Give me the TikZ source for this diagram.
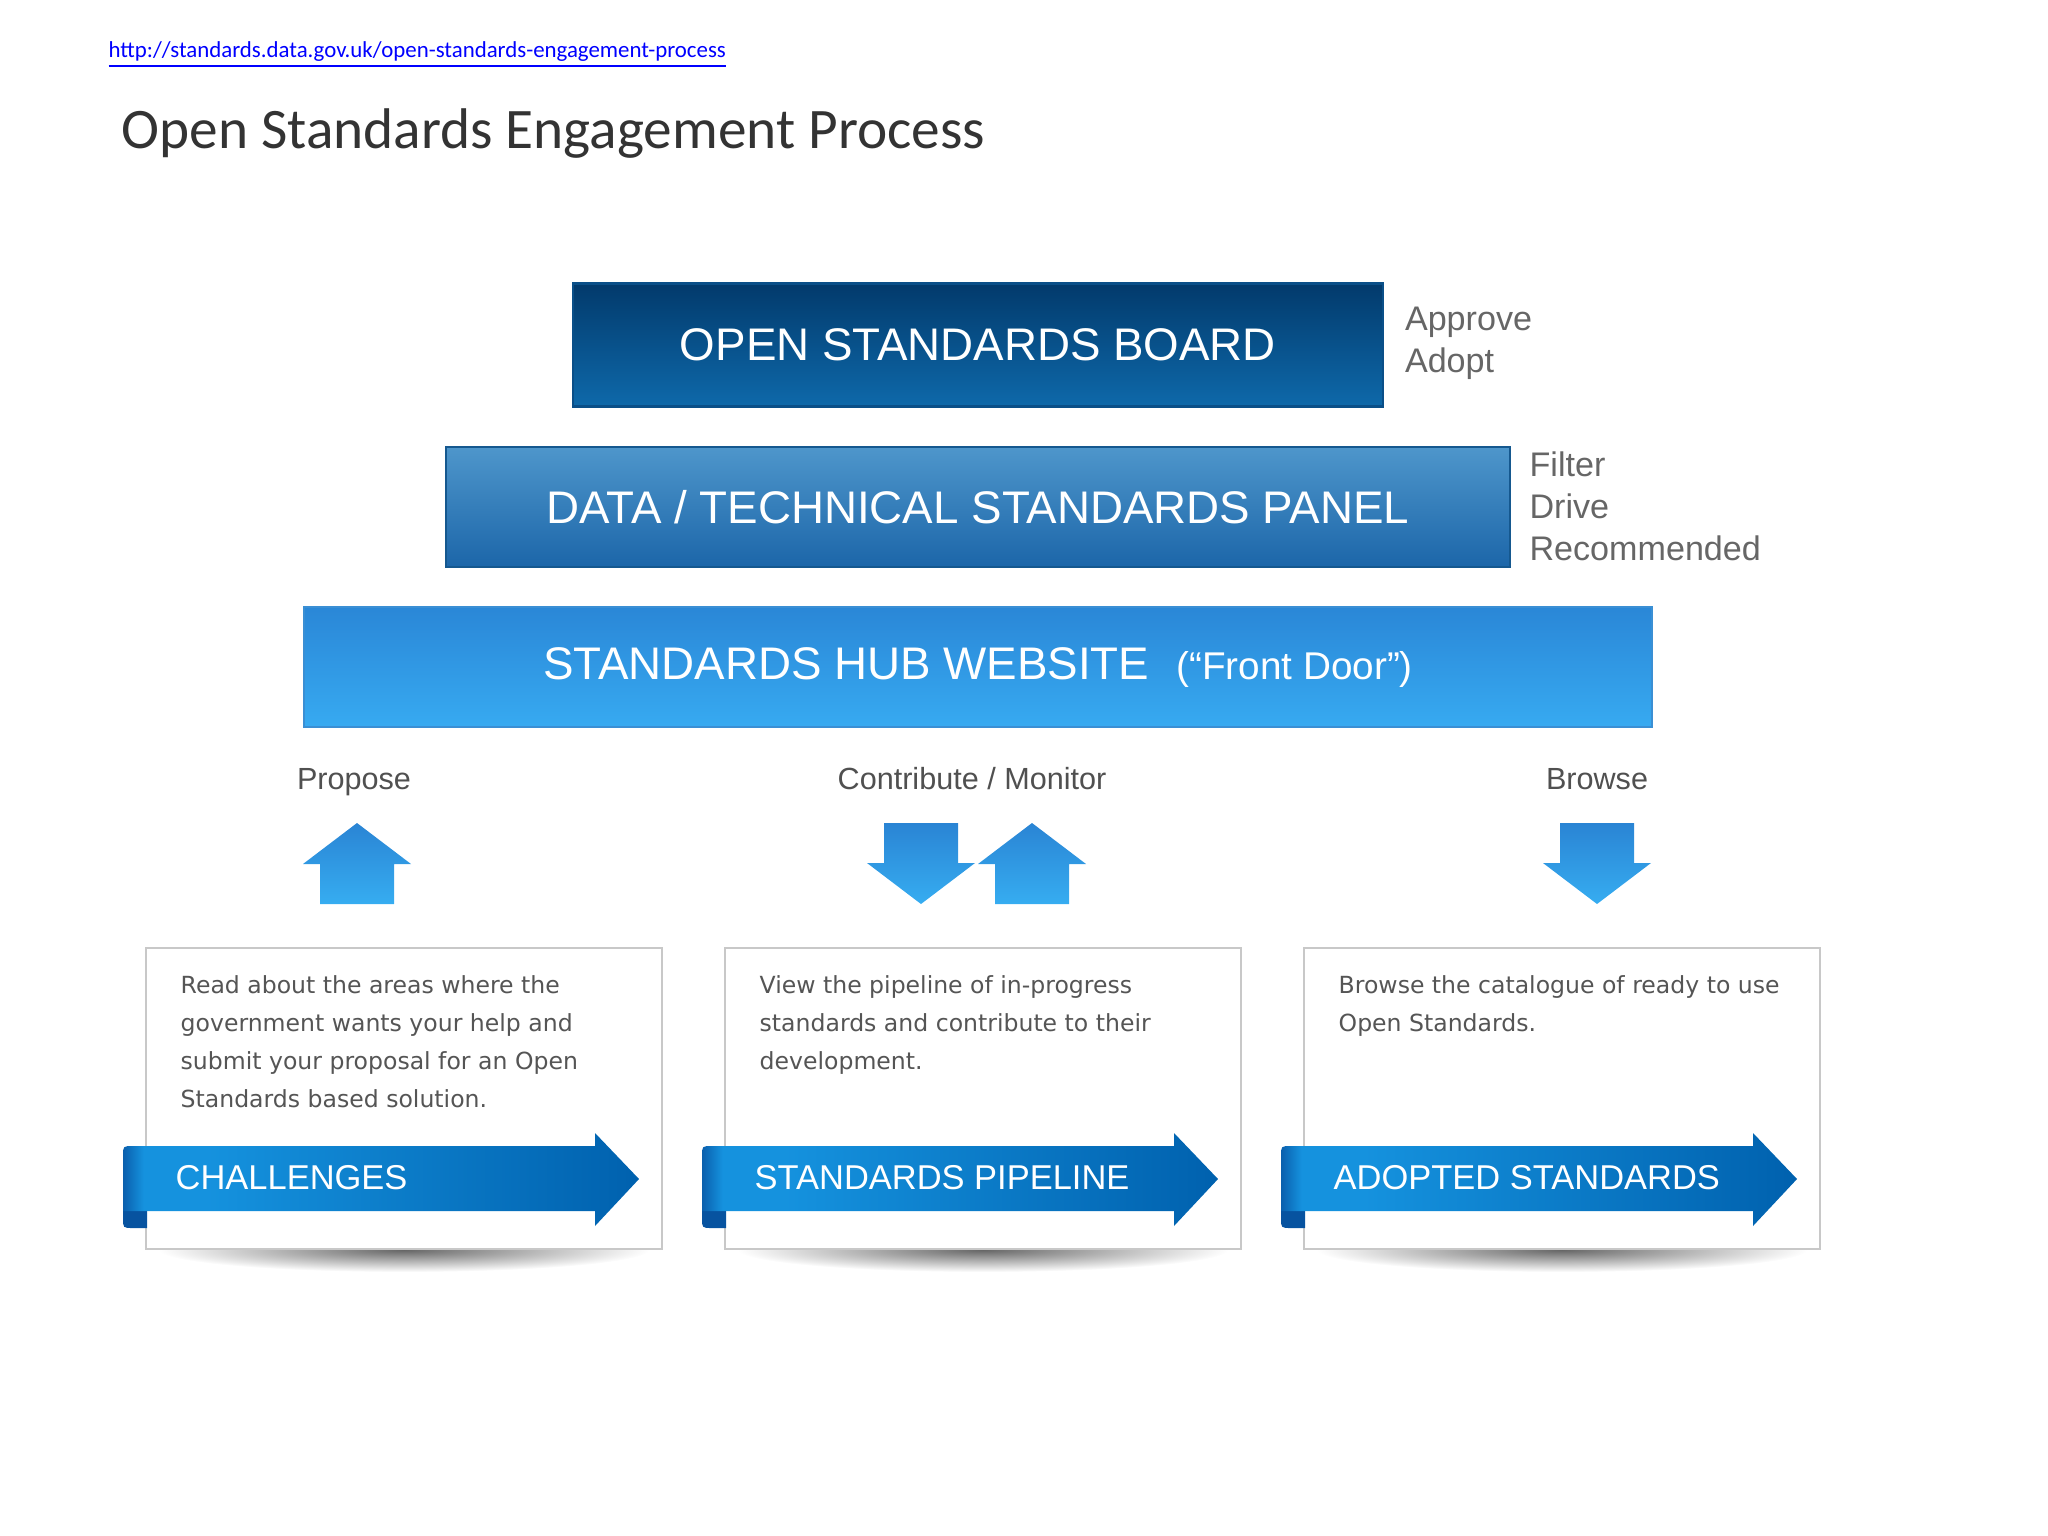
\documentclass[tikz,border=0pt]{standalone}
\usepackage{fontspec}
\setmainfont{Liberation Sans}
\newfontfamily\calibrifont{Carlito}
\newfontfamily\verdanafont{DejaVu Sans}
\usepackage{xcolor}
\usetikzlibrary{positioning}

\definecolor{boardtop}{HTML}{023A6C}
\definecolor{boardbot}{HTML}{0E69AA}
\definecolor{boardline}{HTML}{0A4F88}
\definecolor{paneltop}{HTML}{4E96CB}
\definecolor{panelbot}{HTML}{1C66A9}
\definecolor{panelline}{HTML}{15588F}
\definecolor{hubtop}{HTML}{2A87D7}
\definecolor{hubbot}{HTML}{37AAF1}
\definecolor{hubline}{HTML}{3A8FD4}
\definecolor{arrtop}{HTML}{2A84D4}
\definecolor{arrbot}{HTML}{36ADF1}
\definecolor{ribedge}{HTML}{0A5FAD}
\definecolor{riblite}{HTML}{1592DE}
\definecolor{ribdeep}{HTML}{0061AE}
\definecolor{ribfold}{HTML}{0753A0}
\definecolor{notegray}{HTML}{666666}
\definecolor{cuegray}{HTML}{505050}
\definecolor{bodygray}{HTML}{555555}
\definecolor{titlegray}{HTML}{333333}
\definecolor{cardline}{HTML}{C8C8C8}
\pgfdeclarehorizontalshading{ribbonshade}{100bp}{color(0bp)=(ribedge); color(25bp)=(ribedge); color(27bp)=(riblite); color(33bp)=(riblite); color(75bp)=(ribdeep); color(100bp)=(ribdeep)}

\begin{document}
\begin{tikzpicture}[x=0.01cm,y=-0.01cm,node distance=1.62cm,on grid,
  tier/.style={draw,line width=0.6pt,text=white,inner sep=0pt,font=\fontsize{13}{15}\selectfont},
  note/.style={anchor=north west,inner sep=0pt,align=left,text=notegray,font=\fontsize{9.7}{11.95}\selectfont},
  cue/.style={anchor=base,inner sep=0pt,text=cuegray,font=\fontsize{8.7}{10}\selectfont},
  card/.style={draw=cardline,line width=0.5pt,fill=white,minimum width=5.16cm,minimum height=3.01cm,inner sep=0pt},
  blurb/.style={anchor=north west,inner sep=0pt,align=left,text=bodygray,font=\verdanafont\fontsize{6.7}{10.8}\selectfont},
  ribtext/.style={anchor=west,inner sep=0pt,text=white,font=\fontsize{9.8}{11}\selectfont}]
  \useasboundingbox (0,0) rectangle (2048,1536);

  % header
  \node[anchor=base west,inner sep=0pt,text=blue,font=\calibrifont\fontsize{6.5}{8}\selectfont] (url) at (108,57)
    {\underline{http://standards.data.gov.uk/open-standards-engagement-process}};
  \node[anchor=base west,inner sep=0pt,text=titlegray,font=\calibrifont\fontsize{16.3}{19}\selectfont] (title) at (121,148)
    {Open Standards Engagement Process};

  % the three tiers
  \node[tier,draw=boardline,top color=boardtop,bottom color=boardbot,minimum width=8.1cm,minimum height=1.23cm] (board) at (978,345) {OPEN STANDARDS BOARD};
  \node[tier,draw=panelline,top color=paneltop,bottom color=panelbot,minimum width=10.63cm,minimum height=1.2cm] (panel) [below=of board] {DATA / TECHNICAL STANDARDS PANEL};
  \node[tier,draw=hubline,top color=hubtop,bottom color=hubbot,minimum width=13.48cm,minimum height=1.2cm] (hub) [below=1.6cm of panel]
    {STANDARDS HUB WEBSITE\hspace{0.27cm}{\fontsize{11}{13}\selectfont(“Front Door”)}};
  \node[note] (approve) at ([xshift=0.2cm,yshift=-0.24cm]board.north east) {Approve\\Adopt};
  \node[note] (filter) at ([xshift=0.18cm,yshift=-0.05cm]panel.north east) {Filter\\Drive\\Recommended};

  % ways in
  \node[cue] (propose) at (354,789) {Propose};
  \node[cue] (contrib) at (972,789) {Contribute / Monitor};
  \node[cue] (browse) at (1597,789) {Browse};
  \foreach \ax in {357,1032}
    \shade[top color=arrtop,bottom color=arrbot] ({\ax-37},904) -- ({\ax-37},864) -- ({\ax-54},864) -- (\ax,823)
      -- ({\ax+54},864) -- ({\ax+37},864) -- ({\ax+37},904) -- cycle;
  \foreach \ax in {921,1597}
    \shade[top color=arrtop,bottom color=arrbot] ({\ax-37},823) -- ({\ax+37},823) -- ({\ax+37},863) -- ({\ax+54},863)
      -- (\ax,904) -- ({\ax-54},863) -- ({\ax-37},863) -- cycle;

  % cards with ribbons
  \foreach \i/\cx/\rtext/\btext in {
      1/404/CHALLENGES/{Read about the areas where the\\government wants your help and\\submit your proposal for an Open\\Standards based solution.},
      2/983/STANDARDS PIPELINE/{View the pipeline of in-progress\\standards and contribute to their\\development.},
      3/1562/ADOPTED STANDARDS/{Browse the catalogue of ready to use\\Open Standards.}} {
    \shade[inner color=black!60,outer color=white] (\cx,1250) ellipse (2.45cm and 0.22cm);
    \node[card] (card\i) at (\cx,1098.5) {};
    \node[blurb] (blurb\i) at ([xshift=0.35cm,yshift=-0.28cm]card\i.north west) {\btext};
    \fill[ribfold] ({\cx-270},1160) -- ({\cx-257},1160) -- ({\cx-257},1228) -- ({\cx-271},1228)
      .. controls ({\cx-281},1228) .. ({\cx-281},1218) -- ({\cx-281},1170) -- cycle;
    \shade[shading=ribbonshade] ({\cx-281},1211) -- ({\cx-281},1156) .. controls ({\cx-281},1146) .. ({\cx-271},1146)
      -- ({\cx+191},1146) -- ({\cx+191},1133) -- ({\cx+235},1179) -- ({\cx+191},1226) -- ({\cx+191},1211) -- cycle;
    \node[ribtext] (rib\i) at ({\cx-229},1178) {\rtext};
  }
\end{tikzpicture}
\end{document}
